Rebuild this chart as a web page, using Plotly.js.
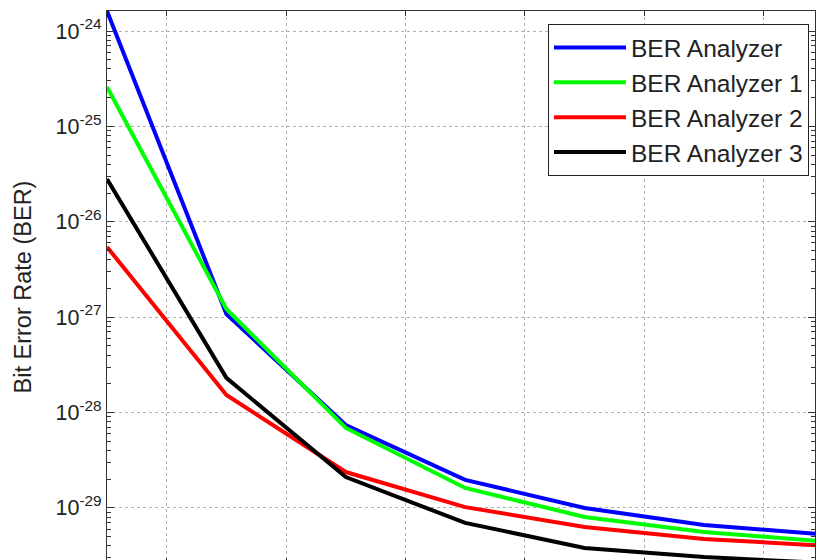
<!DOCTYPE html>
<html>
<head>
<meta charset="utf-8">
<script src="https://cdn.plot.ly/plotly-3.0.1.min.js"></script>
<style>
html,body{margin:0;padding:0;overflow:hidden;background:#fff;}
#chart{width:817px;height:600px;}
</style>
</head>
<body>
<div id="chart"></div>
<script>
// x positions (sample index)
var xPoints = [0, 1, 2, 3, 4, 5, 6];

// series values (BER)
var berAnalyzer  = [1.62e-24, 1.08e-27, 7.41e-29, 1.97e-29, 1.00e-29, 6.64e-30, 5.28e-30];
var berAnalyzer1 = [2.59e-25, 1.22e-27, 6.90e-29, 1.62e-29, 8.05e-30, 5.60e-30, 4.47e-30];
var berAnalyzer2 = [5.45e-27, 1.53e-28, 2.38e-29, 1.02e-29, 6.32e-30, 4.73e-30, 4.03e-30];
var berAnalyzer3 = [2.81e-26, 2.31e-28, 2.11e-29, 6.97e-30, 3.81e-30, 3.06e-30, 2.65e-30];

var seriesNames = ['BER Analyzer', 'BER Analyzer 1', 'BER Analyzer 2', 'BER Analyzer 3'];
var seriesColors = ['#0000ff', '#00ff00', '#ff0000', '#000000'];

// axis ticks
var yExponents = [-24, -25, -26, -27, -28, -29];
var yTickVals = yExponents.map(function (e) { return Math.pow(10, e); });
var yTickText = yExponents.map(function (e) {
  return '10<span style="font-size:22px"><sup>' + e + '</sup></span>';
});
var xTickVals = [0.5, 1.5, 2.5, 3.5, 4.5, 5.5];

// minor log ticks (2..9 within each decade)
var yMinorVals = [];
[-30, -29, -28, -27, -26, -25, -24].forEach(function (e) {
  for (var m = 2; m <= 9; m++) yMinorVals.push(m * Math.pow(10, e));
});

var allSeries = [berAnalyzer, berAnalyzer1, berAnalyzer2, berAnalyzer3];
var traces = allSeries.map(function (ys, i) {
  return {
    x: xPoints, y: ys, type: 'scatter', mode: 'lines',
    name: seriesNames[i],
    line: {color: seriesColors[i], width: 4}
  };
});

var font = 'Liberation Sans, Arial, sans-serif';

var layout = {
  width: 817, height: 600,
  margin: {l: 107, r: 2, t: 11, b: 37, pad: 0},
  paper_bgcolor: '#fff', plot_bgcolor: '#fff',
  showlegend: true,
  font: {family: font, color: '#222'},
  xaxis: {
    range: [0, 5.93],
    tickmode: 'array', tickvals: xTickVals,
    showticklabels: false,
    ticks: 'inside', ticklen: 5, tickcolor: '#333',
    showgrid: true, gridcolor: '#b0b0b0', griddash: 'dot', gridwidth: 1,
    zeroline: false,
    showline: true, linecolor: '#333', linewidth: 1, mirror: 'allticks'
  },
  yaxis: {
    type: 'log',
    range: [-29.577, -23.790],
    tickmode: 'array', tickvals: yTickVals, ticktext: yTickText,
    tickfont: {family: font, size: 21.5, color: '#222'},
    ticks: 'inside', ticklen: 7, tickcolor: '#333',
    minor: {tickmode: 'array', tickvals: yMinorVals, ticks: 'inside', ticklen: 4, tickcolor: '#333', showgrid: false},
    showgrid: true, gridcolor: '#b0b0b0', griddash: 'dot', gridwidth: 1,
    zeroline: false,
    showline: true, linecolor: '#333', linewidth: 1, mirror: 'allticks',
    title: {text: 'Bit Error Rate (BER)', font: {family: font, size: 23.5, color: '#222'}, standoff: 17}
  },
  legend: {
    x: 0.9915, xanchor: 'right', y: 0.9764, yanchor: 'top',
    bgcolor: '#fff', bordercolor: '#222', borderwidth: 1,
    font: {family: font, size: 24.5, color: '#222'},
    itemwidth: 72
  }
};

Plotly.newPlot('chart', traces, layout, {displayModeBar: false, staticPlot: true});
</script>
</body>
</html>
